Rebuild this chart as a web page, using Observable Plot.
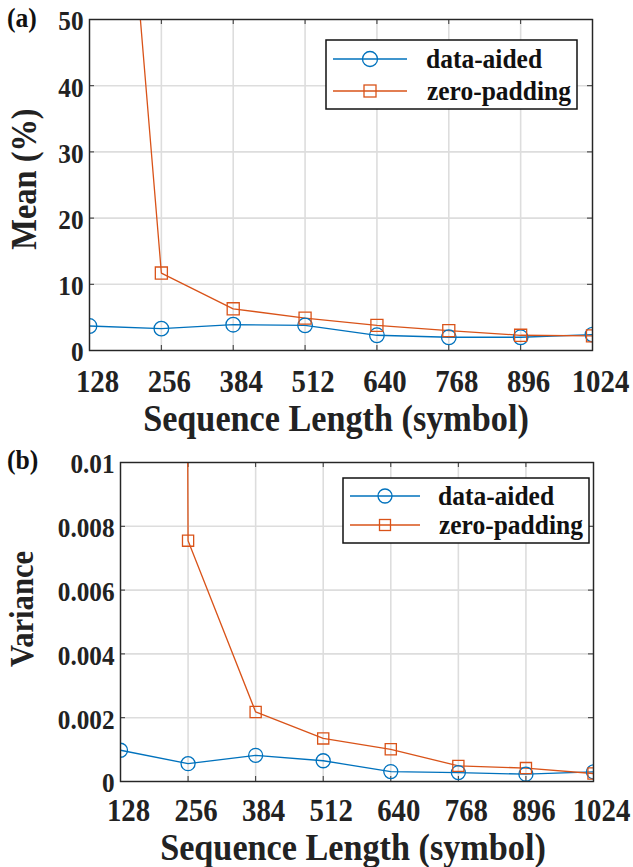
<!DOCTYPE html>
<html><head><meta charset="utf-8">
<script src="https://cdn.jsdelivr.net/npm/d3@7"></script>
<script src="https://cdn.jsdelivr.net/npm/@observablehq/plot@0.6"></script>
<style>
body{margin:0;background:#fff;}
#wrap{position:relative;width:633px;height:867px;font-family:"Liberation Serif","Times New Roman",serif;overflow:hidden;}
.panel{position:absolute;left:0;}
.tag{position:absolute;left:7px;font-weight:bold;font-size:27px;line-height:27px;color:#111;transform:scaleX(0.95);transform-origin:left top;}
.legend{position:absolute;}
</style></head><body><div id="wrap"></div>
<script>
// ---- data ----
const sequenceLengths = [128, 256, 384, 512, 640, 768, 896, 1024];
const meanDataAided   = [3.7, 3.3, 3.9, 3.8, 2.3, 2.0, 2.0, 2.4];
const meanZeroPadding = [143, 11.7, 6.3, 4.9, 3.8, 3.0, 2.3, 2.2];
const varDataAided    = [0.00098, 0.00056, 0.00082, 0.00065, 0.00031, 0.00028, 0.00023, 0.00030];
const varZeroPadding  = [0.5, 0.00755, 0.00218, 0.00135, 0.00101, 0.00049, 0.00042, 0.00025];
const meanTicks = [0, 10, 20, 30, 40, 50];
const meanTickLabels = ["0", "10", "20", "30", "40", "50"];
const varTicks = [0, 0.002, 0.004, 0.006, 0.008, 0.01];
const varTickLabels = ["0", "0.002", "0.004", "0.006", "0.008", "0.01"];
const xTickLabels = ["128", "256", "384", "512", "640", "768", "896", "1024"];
const seriesNames = ["data-aided", "zero-padding"];
const seriesColors = ["#0072BD", "#D95319"];
const seriesSymbols = ["circle", "square"];
const xLabel = "Sequence Length (symbol)";
const yLabels = ["Mean (%)", "Variance"];
const panelTags = ["(a)", "(b)"];

const wrap = document.getElementById("wrap");

function compress(root, f) {
  root.querySelectorAll("text").forEach(t => {
    const L = t.getComputedTextLength();
    if (L > 0) {
      t.setAttribute("textLength", (L * f).toFixed(1));
      t.setAttribute("lengthAdjust", "spacingAndGlyphs");
    }
  });
}

function panel(o) {
  const rows = sequenceLengths.flatMap((x, i) => [
    {x, y: o.a[i], s: seriesNames[0]},
    {x, y: o.z[i], s: seriesNames[1]}
  ]);
  const W = 633;
  const iw = W - o.ml - o.mr, ih = o.height - o.mt - o.mb, tk = 5;
  const fmt = d => o.labels[o.ticks.indexOf(d)];
  const xfmt = d => xTickLabels[sequenceLengths.indexOf(d)];
  return Plot.plot({
    width: W, height: o.height,
    marginTop: o.mt, marginBottom: o.mb, marginLeft: o.ml, marginRight: o.mr,
    style: {fontFamily: "'Liberation Serif', serif", color: "#222", background: "white", overflow: "visible"},
    x: {domain: [128, 1024]},
    y: {domain: o.domain},
    color: {domain: seriesNames, range: seriesColors},
    symbol: {domain: seriesNames, range: seriesSymbols},
    marks: [
      Plot.ruleX(sequenceLengths, {x: d => d, stroke: "#dddddd", strokeWidth: 1.6}),
      Plot.ruleY(o.ticks, {y: d => d, stroke: "#dddddd", strokeWidth: 1.6}),
      Plot.ruleX(sequenceLengths, {x: d => d, insetTop: ih - tk, stroke: "#333"}),
      Plot.ruleX(sequenceLengths, {x: d => d, insetBottom: ih - tk, stroke: "#333"}),
      Plot.ruleY(o.ticks, {y: d => d, insetRight: iw - tk, stroke: "#333"}),
      Plot.ruleY(o.ticks, {y: d => d, insetLeft: iw - tk, stroke: "#333"}),
      Plot.line(rows, {x: "x", y: "y", z: "s", stroke: "s", strokeWidth: 1.3, clip: true}),
      Plot.dot(rows.filter(d => d.s === seriesNames[0]), {x: "x", y: "y", stroke: "s", symbol: "s", r: o.rc, strokeWidth: 1.3, clip: true}),
      Plot.dot(rows.filter(d => d.s === seriesNames[1]), {x: "x", y: "y", stroke: "s", symbol: "s", r: o.rs, strokeWidth: 1.3, clip: true}),
      Plot.frame({stroke: "#262626", strokeWidth: 1.4}),
      Plot.axisX(sequenceLengths, {tickSize: 0, tickPadding: o.xpad, fontSize: 32, fontWeight: "bold", dx: 8, tickFormat: xfmt, label: null}),
      Plot.axisY(o.ticks, {tickSize: 0, tickPadding: 6, fontSize: 28, fontWeight: "bold", dy: 2, tickFormat: fmt, label: null}),
      Plot.text([xLabel], {frameAnchor: "bottom", lineAnchor: "middle", textAnchor: "middle", text: d => d, fontSize: 38, fontWeight: "bold", dx: o.xlDx, dy: o.xlDy}),
      Plot.text([o.ylabel], {frameAnchor: "left", lineAnchor: "middle", textAnchor: "middle", text: d => d, rotate: -90, fontSize: o.ylFont, fontWeight: "bold", dx: o.ylDx, dy: o.ylDy})
    ]
  });
}

function legend(o) {
  const svg = d3.create("svg").attr("width", o.w + 2).attr("height", o.h + 2)
    .attr("class", "legend").style("left", (o.left - 1) + "px").style("top", (o.top - 1) + "px");
  svg.append("rect").attr("x", 1).attr("y", 1).attr("width", o.w).attr("height", o.h)
    .attr("fill", "white").attr("stroke", "#111").attr("stroke-width", 1.5);
  seriesNames.forEach((name, i) => {
    const y = 1 + o.rows[i];
    svg.append("line").attr("x1", 1 + o.x1).attr("x2", 1 + o.x2).attr("y1", y).attr("y2", y)
      .attr("stroke", seriesColors[i]).attr("stroke-width", 1.3);
    const cx = 1 + (o.x1 + o.x2) / 2;
    if (seriesSymbols[i] === "circle") {
      svg.append("circle").attr("cx", cx).attr("cy", y).attr("r", o.rc)
        .attr("fill", "none").attr("stroke", seriesColors[i]).attr("stroke-width", 1.3);
    } else {
      svg.append("rect").attr("x", cx - o.sq / 2).attr("y", y - o.sq / 2).attr("width", o.sq).attr("height", o.sq)
        .attr("fill", "none").attr("stroke", seriesColors[i]).attr("stroke-width", 1.3);
    }
    svg.append("text").attr("x", 1 + o.tx[i]).attr("y", y + 9).text(name)
      .attr("font-family", "'Liberation Serif', serif").attr("font-weight", "bold")
      .attr("font-size", 28).attr("fill", "#111");
  });
  return svg.node();
}

// panel (a)
const pa = panel({
  a: meanDataAided, z: meanZeroPadding, domain: [0, 50], ticks: meanTicks, labels: meanTickLabels,
  ylabel: yLabels[0], height: 440, mt: 19, mb: 90, ml: 89, mr: 41,
  xpad: 19, xlDx: -5, xlDy: 68, ylDx: -65, ylDy: -6, ylFont: 36, rc: 7.3, rs: 6.8
});
pa.classList.add("panel"); pa.style.top = "0px";
wrap.appendChild(pa);

// panel (b)
const pb = panel({
  a: varDataAided, z: varZeroPadding, domain: [0, 0.01], ticks: varTicks, labels: varTickLabels,
  ylabel: yLabels[1], height: 427, mt: 22, mb: 86, ml: 120, mr: 40,
  xpad: 17, xlDx: -4, xlDy: 66, ylDx: -98, ylDy: -13, ylFont: 34, rc: 7, rs: 6.3
});
pb.classList.add("panel"); pb.style.top = "440px";
wrap.appendChild(pb);

const la = legend({left: 326, top: 40, w: 251, h: 69, x1: 7, x2: 81, rows: [19, 51], tx: [100, 101], rc: 7.5, sq: 12});
const lb = legend({left: 343, top: 478, w: 246, h: 65, x1: 7, x2: 77, rows: [18, 47], tx: [95, 96], rc: 7, sq: 11});
wrap.appendChild(la);
wrap.appendChild(lb);

[pa, pb].forEach(s => compress(s, 0.9));
[la, lb].forEach(s => compress(s, 0.91));

panelTags.forEach((t, i) => {
  const d = document.createElement("div");
  d.className = "tag";
  d.textContent = t;
  d.style.top = (i === 0 ? 5 : 447) + "px";
  wrap.appendChild(d);
});
</script>
</body></html>
